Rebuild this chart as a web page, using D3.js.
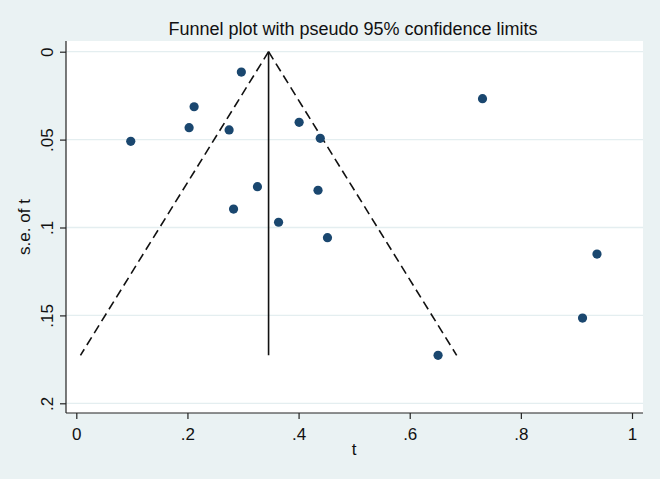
<!DOCTYPE html>
<html>
<head>
<meta charset="utf-8">
<script src="https://cdn.jsdelivr.net/npm/d3@7"></script>
<style>
  body { margin: 0; background: #eaf2f3; }
  svg { display: block; font-family: "Liberation Sans", Arial, sans-serif; }
</style>
</head>
<body>
<div id="chart"></div>
<script>
'use strict';

// study effects (t) and their standard errors
let effects = [0.297, 0.212, 0.203, 0.275, 0.098, 0.401, 0.439, 0.326,
    0.435, 0.283, 0.364, 0.452, 0.731, 0.937, 0.911, 0.651];
let stdErrs = [0.0116, 0.0313, 0.0432, 0.0445, 0.0510, 0.0402, 0.0493, 0.0768,
    0.0788, 0.0895, 0.0970, 0.1058, 0.0267, 0.1151, 0.1515, 0.1727];

// pooled estimate and pseudo 95% limits (at se = 0 and at max se)
let pooled = 0.346;
let limitSe = [0, 0.1727];
let lowerLimit = [0.346, 0.0075];
let upperLimit = [0.346, 0.6845];

let xTicks = [0, 0.2, 0.4, 0.6, 0.8, 1];
let yTicks = [0, 0.05, 0.1, 0.15, 0.2];

let width = 660, height = 479;
let plot = { left: 66, right: 643, top: 41, bottom: 413 };

let svg = d3.select('#chart').append('svg')
    .attr('width', width)
    .attr('height', height);

svg.append('rect')
    .attr('width', width).attr('height', height)
    .attr('fill', '#eaf2f3');

svg.append('rect')
    .attr('x', plot.left).attr('y', plot.top)
    .attr('width', plot.right - plot.left)
    .attr('height', plot.bottom - plot.top)
    .attr('fill', '#fff');

let x = d3.scaleLinear().domain([0, 1]).range([76.3, 632]);
let y = d3.scaleLinear().domain([0, 0.2]).range([51.7, 403.3]);

function fmt(d) {
    return d === 0 ? '0' : (d === 1 ? '1' : String(d).replace(/^0/, ''));
}

// grid lines
svg.append('g')
    .selectAll('line')
    .data(yTicks)
    .enter()
    .append('line')
    .attr('x1', plot.left).attr('x2', plot.right)
    .attr('y1', d => y(d)).attr('y2', d => y(d))
    .attr('stroke', '#e4eef0')
    .attr('stroke-width', 1.3);

// y axis
let yAxis = svg.append('g')
    .attr('transform', 'translate(' + plot.left + ',0)')
    .call(d3.axisLeft(y).tickValues(yTicks).tickFormat(fmt).tickSize(6).tickPadding(0));
yAxis.select('.domain').attr('d', 'M0,' + plot.top + 'V' + plot.bottom)
    .attr('stroke', '#222').attr('stroke-width', 1.2);
yAxis.selectAll('.tick line').attr('stroke', '#222').attr('stroke-width', 1.2);
yAxis.selectAll('.tick text')
    .attr('x', 0).attr('dy', 0)
    .attr('transform', 'translate(-13,0) rotate(-90)')
    .attr('text-anchor', 'middle')
    .attr('fill', '#111')
    .style('font-size', '17px');

// x axis
let xAxis = svg.append('g')
    .attr('transform', 'translate(0,' + plot.bottom + ')')
    .call(d3.axisBottom(x).tickValues(xTicks).tickFormat(fmt).tickSize(6).tickPadding(0));
xAxis.select('.domain').attr('d', 'M' + plot.left + ',0H' + plot.right)
    .attr('stroke', '#222').attr('stroke-width', 1.2);
xAxis.selectAll('.tick line').attr('stroke', '#222').attr('stroke-width', 1.2);
xAxis.selectAll('.tick text')
    .attr('y', 27).attr('dy', 0)
    .attr('fill', '#111')
    .style('font-size', '17px');

// funnel limits
let line = d3.line()
    .x(d => x(d[0]))
    .y(d => y(d[1]));

[lowerLimit, upperLimit].forEach(function (lim) {
    svg.append('path')
        .datum(lim.map((v, i) => [v, limitSe[i]]))
        .attr('d', line)
        .attr('fill', 'none')
        .attr('stroke', '#111')
        .attr('stroke-width', 1.6)
        .attr('stroke-dasharray', '9,5');
});

svg.append('path')
    .datum(limitSe.map(s => [pooled, s]))
    .attr('d', line)
    .attr('fill', 'none')
    .attr('stroke', '#111')
    .attr('stroke-width', 1.6);

// studies
svg.append('g')
    .selectAll('circle')
    .data(effects.map((t, i) => ({ t: t, se: stdErrs[i] })))
    .enter()
    .append('circle')
    .attr('cx', d => x(d.t))
    .attr('cy', d => y(d.se))
    .attr('r', 4.6)
    .attr('fill', '#1a476f');

// titles
svg.append('text')
    .attr('x', 353).attr('y', 35)
    .attr('text-anchor', 'middle')
    .attr('fill', '#111')
    .style('font-size', '18px')
    .text('Funnel plot with pseudo 95% confidence limits');

svg.append('text')
    .attr('x', 354).attr('y', 455)
    .attr('text-anchor', 'middle')
    .attr('fill', '#111')
    .style('font-size', '17px')
    .text('t');

svg.append('text')
    .attr('transform', 'translate(30,227) rotate(-90)')
    .attr('text-anchor', 'middle')
    .attr('fill', '#111')
    .style('font-size', '17px')
    .text('s.e. of t');
</script>
</body>
</html>
